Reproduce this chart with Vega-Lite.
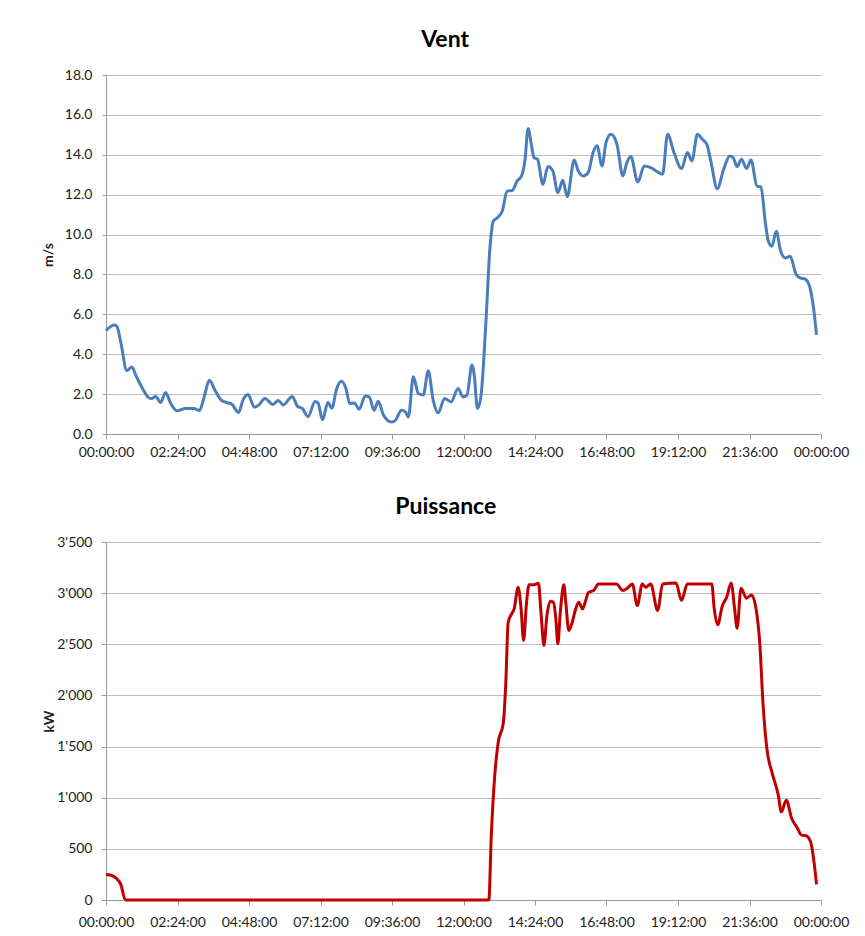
{
  "$schema": "https://vega.github.io/schema/vega-lite/v6.json",
  "padding": {"left": 41, "top": 29, "right": 10, "bottom": 5},
  "background": "white",
  "columns": 1,
  "spacing": 37,
  "align": "none",
  "config": {
    "font": "Lato",
    "view": {"stroke": null},
    "title": {"font": "Lato", "fontSize": 23, "fontWeight": "bold", "color": "#000000", "anchor": "middle", "frame": "bounds", "offset": 16},
    "axis": {"labelFont": "Lato", "labelFontSize": 14, "labelColor": "#222222", "titleFont": "Lato", "titleFontSize": 14, "titleFontWeight": "bold", "titleColor": "#222222", "gridColor": "#bdbdbd", "domainColor": "#9a9a9a", "tickColor": "#9a9a9a", "tickSize": 5}
  },
  "datasets": {
    "vent": [
      {"minute": 0, "vent": 5.2}, {"minute": 17, "vent": 5.46}, {"minute": 22, "vent": 5.4}, {"minute": 30, "vent": 4.57},
      {"minute": 42, "vent": 3.18}, {"minute": 52, "vent": 3.36}, {"minute": 61, "vent": 2.89}, {"minute": 75, "vent": 2.22},
      {"minute": 86, "vent": 1.82}, {"minute": 92, "vent": 1.78}, {"minute": 100, "vent": 1.88}, {"minute": 110, "vent": 1.58},
      {"minute": 120, "vent": 2.08}, {"minute": 130, "vent": 1.55}, {"minute": 143, "vent": 1.16}, {"minute": 160, "vent": 1.28},
      {"minute": 177, "vent": 1.28}, {"minute": 188, "vent": 1.18}, {"minute": 198, "vent": 1.88}, {"minute": 208, "vent": 2.69},
      {"minute": 220, "vent": 2.17}, {"minute": 233, "vent": 1.68}, {"minute": 243, "vent": 1.58}, {"minute": 253, "vent": 1.5},
      {"minute": 267, "vent": 1.08}, {"minute": 276, "vent": 1.71}, {"minute": 286, "vent": 1.98}, {"minute": 299, "vent": 1.34},
      {"minute": 308, "vent": 1.46}, {"minute": 320, "vent": 1.78}, {"minute": 336, "vent": 1.48}, {"minute": 347, "vent": 1.68},
      {"minute": 357, "vent": 1.46}, {"minute": 375, "vent": 1.88}, {"minute": 386, "vent": 1.38}, {"minute": 395, "vent": 1.29},
      {"minute": 407, "vent": 0.87}, {"minute": 421, "vent": 1.63}, {"minute": 427, "vent": 1.55}, {"minute": 436, "vent": 0.71},
      {"minute": 447, "vent": 1.58}, {"minute": 455, "vent": 1.29}, {"minute": 464, "vent": 2.22}, {"minute": 474, "vent": 2.64},
      {"minute": 483, "vent": 2.3}, {"minute": 491, "vent": 1.53}, {"minute": 500, "vent": 1.56}, {"minute": 510, "vent": 1.24},
      {"minute": 522, "vent": 1.9}, {"minute": 530, "vent": 1.86}, {"minute": 540, "vent": 1.19}, {"minute": 548, "vent": 1.64},
      {"minute": 559, "vent": 0.94}, {"minute": 575, "vent": 0.6}, {"minute": 583, "vent": 0.69}, {"minute": 595, "vent": 1.19},
      {"minute": 603, "vent": 1.11}, {"minute": 609, "vent": 0.86}, {"minute": 619, "vent": 2.87}, {"minute": 629, "vent": 2.03},
      {"minute": 639, "vent": 1.95}, {"minute": 649, "vent": 3.17}, {"minute": 659, "vent": 1.69}, {"minute": 669, "vent": 1.06},
      {"minute": 682, "vent": 1.78}, {"minute": 695, "vent": 1.61}, {"minute": 709, "vent": 2.28}, {"minute": 719, "vent": 1.86},
      {"minute": 727, "vent": 1.95}, {"minute": 737, "vent": 3.46}, {"minute": 742, "vent": 2.87}, {"minute": 748, "vent": 1.28},
      {"minute": 755, "vent": 1.86}, {"minute": 765, "vent": 5.55}, {"minute": 773, "vent": 9.24}, {"minute": 780, "vent": 10.67},
      {"minute": 788, "vent": 10.84}, {"minute": 798, "vent": 11.17}, {"minute": 808, "vent": 12.18}, {"minute": 818, "vent": 12.21},
      {"minute": 828, "vent": 12.68}, {"minute": 837, "vent": 12.94}, {"minute": 844, "vent": 13.78}, {"minute": 850, "vent": 15.32},
      {"minute": 857, "vent": 14.45}, {"minute": 862, "vent": 13.86}, {"minute": 869, "vent": 13.78}, {"minute": 880, "vent": 12.52},
      {"minute": 890, "vent": 13.41}, {"minute": 900, "vent": 13.19}, {"minute": 910, "vent": 12.1}, {"minute": 920, "vent": 12.72},
      {"minute": 929, "vent": 11.9}, {"minute": 943, "vent": 13.74}, {"minute": 951, "vent": 13.19}, {"minute": 961, "vent": 12.94},
      {"minute": 971, "vent": 13.1}, {"minute": 981, "vent": 14.11}, {"minute": 989, "vent": 14.45}, {"minute": 999, "vent": 13.44},
      {"minute": 1007, "vent": 14.61}, {"minute": 1017, "vent": 15.03}, {"minute": 1029, "vent": 14.53}, {"minute": 1041, "vent": 12.94},
      {"minute": 1049, "vent": 13.61}, {"minute": 1057, "vent": 13.91}, {"minute": 1071, "vent": 12.63}, {"minute": 1084, "vent": 13.44},
      {"minute": 1097, "vent": 13.36}, {"minute": 1111, "vent": 13.14}, {"minute": 1121, "vent": 13.02}, {"minute": 1131, "vent": 15.03},
      {"minute": 1144, "vent": 14.11}, {"minute": 1159, "vent": 13.31}, {"minute": 1171, "vent": 14.11}, {"minute": 1180, "vent": 13.69},
      {"minute": 1191, "vent": 15.03}, {"minute": 1201, "vent": 14.78}, {"minute": 1210, "vent": 14.53}, {"minute": 1218, "vent": 13.69},
      {"minute": 1231, "vent": 12.3}, {"minute": 1244, "vent": 13.27}, {"minute": 1256, "vent": 13.94}, {"minute": 1263, "vent": 13.86},
      {"minute": 1271, "vent": 13.41}, {"minute": 1280, "vent": 13.78}, {"minute": 1290, "vent": 13.31}, {"minute": 1299, "vent": 13.74},
      {"minute": 1311, "vent": 12.43}, {"minute": 1319, "vent": 12.4}, {"minute": 1328, "vent": 10.59}, {"minute": 1334, "vent": 9.66},
      {"minute": 1341, "vent": 9.41}, {"minute": 1350, "vent": 10.17}, {"minute": 1358, "vent": 9.24}, {"minute": 1368, "vent": 8.83},
      {"minute": 1378, "vent": 8.91}, {"minute": 1390, "vent": 7.99}, {"minute": 1399, "vent": 7.82}, {"minute": 1408, "vent": 7.77},
      {"minute": 1417, "vent": 7.4}, {"minute": 1425, "vent": 6.31}, {"minute": 1431, "vent": 4.97}
    ],
    "puissance": [
      {"minute": 0, "puissance": 250}, {"minute": 10, "puissance": 242}, {"minute": 20, "puissance": 215}, {"minute": 30, "puissance": 150},
      {"minute": 39, "puissance": 0}, {"minute": 771, "puissance": 0}, {"minute": 776, "puissance": 634}, {"minute": 783, "puissance": 1220},
      {"minute": 790, "puissance": 1545}, {"minute": 800, "puissance": 1724}, {"minute": 805, "puissance": 2098}, {"minute": 810, "puissance": 2716},
      {"minute": 817, "puissance": 2798}, {"minute": 822, "puissance": 2846}, {"minute": 830, "puissance": 3058}, {"minute": 836, "puissance": 2846},
      {"minute": 841, "puissance": 2537}, {"minute": 847, "puissance": 2911}, {"minute": 852, "puissance": 3081}, {"minute": 861, "puissance": 3081},
      {"minute": 871, "puissance": 3097}, {"minute": 876, "puissance": 2814}, {"minute": 882, "puissance": 2489}, {"minute": 888, "puissance": 2781},
      {"minute": 895, "puissance": 2921}, {"minute": 901, "puissance": 2911}, {"minute": 906, "puissance": 2749}, {"minute": 910, "puissance": 2505},
      {"minute": 915, "puissance": 2814}, {"minute": 922, "puissance": 3081}, {"minute": 926, "puissance": 2911}, {"minute": 932, "puissance": 2635},
      {"minute": 939, "puissance": 2716}, {"minute": 945, "puissance": 2830}, {"minute": 952, "puissance": 2911}, {"minute": 960, "puissance": 2846},
      {"minute": 965, "puissance": 2911}, {"minute": 972, "puissance": 3009}, {"minute": 982, "puissance": 3025}, {"minute": 992, "puissance": 3090},
      {"minute": 1006, "puissance": 3090}, {"minute": 1028, "puissance": 3090}, {"minute": 1041, "puissance": 3025}, {"minute": 1050, "puissance": 3048},
      {"minute": 1060, "puissance": 3090}, {"minute": 1070, "puissance": 2879}, {"minute": 1080, "puissance": 3090}, {"minute": 1087, "puissance": 3058},
      {"minute": 1097, "puissance": 3090}, {"minute": 1111, "puissance": 2830}, {"minute": 1121, "puissance": 3090}, {"minute": 1148, "puissance": 3100},
      {"minute": 1159, "puissance": 2928}, {"minute": 1171, "puissance": 3090}, {"minute": 1182, "puissance": 3090}, {"minute": 1195, "puissance": 3090},
      {"minute": 1220, "puissance": 3090}, {"minute": 1225, "puissance": 2846}, {"minute": 1232, "puissance": 2690}, {"minute": 1241, "puissance": 2872},
      {"minute": 1250, "puissance": 2960}, {"minute": 1259, "puissance": 3100}, {"minute": 1266, "puissance": 2846}, {"minute": 1271, "puissance": 2658},
      {"minute": 1279, "puissance": 3048}, {"minute": 1290, "puissance": 2950}, {"minute": 1300, "puissance": 2983}, {"minute": 1308, "puissance": 2879},
      {"minute": 1317, "puissance": 2489}, {"minute": 1323, "puissance": 1936}, {"minute": 1331, "puissance": 1480}, {"minute": 1342, "puissance": 1236},
      {"minute": 1354, "puissance": 1025}, {"minute": 1360, "puissance": 862}, {"minute": 1370, "puissance": 976}, {"minute": 1381, "puissance": 797},
      {"minute": 1391, "puissance": 716}, {"minute": 1401, "puissance": 634}, {"minute": 1410, "puissance": 628}, {"minute": 1419, "puissance": 569},
      {"minute": 1425, "puissance": 407}, {"minute": 1431, "puissance": 153}
    ]
  },
  "concat": [
    {
      "width": 715,
      "height": 359,
      "title": "Vent",
      "data": {"name": "vent"},
      "mark": {"type": "line", "color": "#4a7ebb", "strokeWidth": 3, "interpolate": "monotone"},
      "encoding": {
        "x": {
          "field": "minute", "type": "quantitative",
          "scale": {"domain": [0, 1440], "nice": false, "zero": false},
          "axis": {
            "values": [0, 144, 288, 432, 576, 720, 864, 1008, 1152, 1296, 1440],
            "grid": false, "title": null, "labelPadding": 6, "labelOverlap": false, "labelFlush": false,
            "labelExpr": "pad(toString(floor(datum.value / 60) % 24), 2, '0', 'left') + ':' + pad(toString(datum.value % 60), 2, '0', 'left') + ':00'"
          }
        },
        "y": {
          "field": "vent", "type": "quantitative",
          "scale": {"domain": [0, 18], "nice": false},
          "axis": {"values": [0, 2, 4, 6, 8, 10, 12, 14, 16, 18], "format": ".1f", "title": "m/s", "tickSize": 4, "labelPadding": 10, "titlePadding": 9}
        }
      }
    },
    {
      "width": 715,
      "height": 358,
      "title": "Puissance",
      "data": {"name": "puissance"},
      "mark": {"type": "line", "color": "#c00000", "strokeWidth": 3, "interpolate": "monotone"},
      "encoding": {
        "x": {
          "field": "minute", "type": "quantitative",
          "scale": {"domain": [0, 1440], "nice": false, "zero": false},
          "axis": {
            "values": [0, 144, 288, 432, 576, 720, 864, 1008, 1152, 1296, 1440],
            "grid": false, "title": null, "labelPadding": 10, "labelOverlap": false, "labelFlush": false,
            "labelExpr": "pad(toString(floor(datum.value / 60) % 24), 2, '0', 'left') + ':' + pad(toString(datum.value % 60), 2, '0', 'left') + ':00'"
          }
        },
        "y": {
          "field": "puissance", "type": "quantitative",
          "scale": {"domain": [0, 3500], "nice": false},
          "axis": {"values": [0, 500, 1000, 1500, 2000, 2500, 3000, 3500], "title": "kW", "tickSize": 5, "labelPadding": 9, "titlePadding": 0,
            "labelExpr": "replace(format(datum.value, ','), ',', \"'\")"}
        }
      }
    }
  ]
}
